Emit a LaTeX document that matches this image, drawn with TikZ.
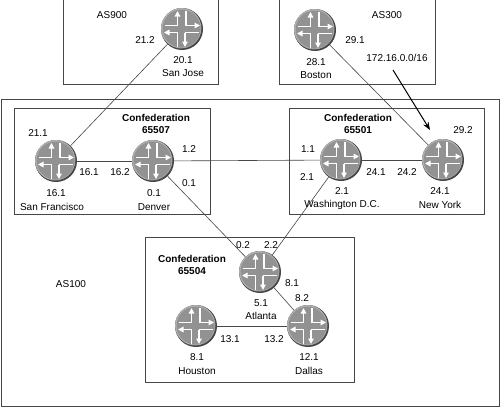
\documentclass[tikz,border=0pt]{standalone}
\usepackage{fontspec}
\setmainfont{Liberation Sans}
\usetikzlibrary{arrows.meta}
\definecolor{routergray}{RGB}{146, 146, 146}
\definecolor{routerrim}{RGB}{70, 70, 70}
\definecolor{routerlight}{RGB}{175, 175, 175}
\definecolor{boxgray}{RGB}{70, 70, 70}

\tikzset{
    router/.style={
        circle, fill=routerrim, minimum size=42pt, inner sep=0pt,
        path picture={
            \begin{scope}[shift={(path picture bounding box.center)}, white, line width=1.5pt,
                tip/.style={-{Triangle[length=5.5pt,width=5.5pt]}}]
                \fill[routerlight] (-0.8,-0.8) circle (20.2pt);
                \fill[routergray] (-0.4,-0.4) circle (19pt);
                % Top left
                \draw[tip] (-4.5,-3.5) -- (-4.5,-18);
                \draw (-4.5,-3.5) -- (-17,-3.5);
                % Top right
                \draw[tip] (4,-3.5) -- (18,-3.5);
                \draw (4,-3.5) -- (4,-18);
                % Bottom left
                \draw[tip] (-4.5,3.5) -- (-18,3.5);
                \draw (-4.5,3.5) -- (-4.5,18);
                % Bottom right
                \draw[tip] (3,3.5) -- (3,18);
                \draw (3,3.5) -- (17,3.5);
            \end{scope}
        }
    },
    asbox/.style={draw=boxgray, line width=0.8pt},
    link/.style={draw=boxgray, line width=0.6pt},
    addr/.style={font=\fontsize{10}{12}\selectfont, inner sep=0pt},
    confed/.style={font=\fontsize{10}{12}\selectfont\bfseries, inner sep=0pt, align=center}
}

\begin{document}
\begin{tikzpicture}[x=1pt, y=-1pt]
    \useasboundingbox (0,0) rectangle (500,407);
    \fill[white] (0,0) rectangle (500,407);

    % Boxes
    \draw[asbox] (63,-2) rectangle (218,84);
    \draw[asbox] (279,-2) rectangle (435,84);
    \draw[asbox] (1,99) rectangle (499,406);
    \draw[asbox] (14,108) rectangle (210,214);
    \draw[asbox] (289,108) rectangle (484,214);
    \draw[asbox] (145,237) rectangle (354,382);

    % Routers
    \node[router] (sanjose) at (182,29) {};
    \node[router] (boston) at (315,30) {};
    \node[router] (sanfran) at (56,161) {};
    \node[router] (denver) at (153,161) {};
    \node[router] (washington) at (341,160) {};
    \node[router] (newyork) at (443,160) {};
    \node[router] (atlanta) at (260,272) {};
    \node[router] (houston) at (196,326) {};
    \node[router] (dallas) at (308,326) {};

    % Links
    \draw[link] (sanjose) -- (sanfran);
    \draw[link] (sanfran) -- (denver);
    \draw[link] (denver) -- (washington);
    \draw[link] (washington) -- (newyork);
    \draw[link] (boston) -- (newyork);
    \draw[link] (denver) -- (atlanta);
    \draw[link] (washington) -- (atlanta);
    \draw[link] (atlanta) -- (dallas);
    \draw[link] (houston) -- (dallas);

    % Route arrow
    \coordinate (route_start) at (393,70);
    \coordinate (route_end) at (430,130);
    \draw[line width=1pt, -{Stealth[length=8pt,width=6pt]}] (route_start) -- (route_end);

    % Labels
    \node[addr] (as900) at (112,15) {AS900};
    \node[addr] (as300) at (387,15) {AS300};
    \node[addr] (as100) at (71,284) {AS100};
    \node[addr] (prefix) at (397,58) {172.16.0.0/16};
    \node[confed] (conf507) at (156,124) {Confederation\\65507};
    \node[confed] (conf501) at (358,124) {Confederation\\65501};
    \node[confed] (conf504) at (192,265) {Confederation\\65504};

    \foreach [count=\i] \pos/\txt in {
        {(145,40)}/21.2, {(183,60)}/20.1, {(183,73)}/San Jose,
        {(38,133)}/21.1, {(89,172)}/16.1, {(120,172)}/16.2,
        {(56,193)}/16.1, {(52,207)}/San Francisco, {(154,193)}/0.1, {(154,207)}/Denver,
        {(189,149)}/1.2, {(189,183)}/0.1,
        {(355,40)}/29.1, {(316,62)}/28.1, {(316,75)}/Boston,
        {(308,149)}/1.1, {(307,177)}/2.1, {(376,172)}/24.1, {(407,172)}/24.2,
        {(342,191)}/2.1, {(342,205)}/Washington D.C., {(463,130)}/29.2, {(440,191)}/24.1, {(440,205)}/New York,
        {(243,245)}/0.2, {(271,245)}/2.2, {(292,283)}/8.1, {(302,298)}/8.2,
        {(261,303)}/5.1, {(261,316)}/Atlanta,
        {(230,339)}/13.1, {(274,339)}/13.2,
        {(197,357)}/8.1, {(197,371)}/Houston, {(309,357)}/12.1, {(309,371)}/Dallas
    }
        \node[addr] (addr\i) at \pos {\txt};
\end{tikzpicture}
\end{document}
